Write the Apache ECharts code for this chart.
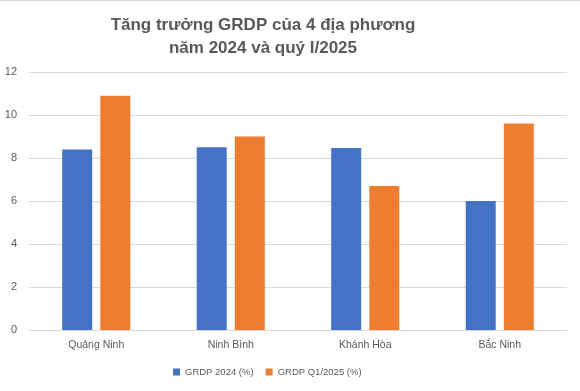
<!DOCTYPE html>
<html>
<head>
<meta charset="utf-8">
<script src="https://cdn.jsdelivr.net/npm/echarts@6/dist/echarts.min.js"></script>
<style>
html,body{margin:0;padding:0;background:#fff;}
#c{width:580px;height:391px;}
</style>
</head>
<body>
<div id="c"></div>
<script>
const categories = ['Quảng Ninh', 'Ninh Bình', 'Khánh Hòa', 'Bắc Ninh'];
const grdp2024 = [8.4, 8.5, 8.47, 6.0];
const grdpQ12025 = [10.9, 9.0, 6.7, 9.6];
const seriesNames = ['GRDP 2024 (%)', 'GRDP Q1/2025 (%)'];
const yTicks = { min: 0, max: 12, interval: 2 };

const chart = echarts.init(document.getElementById('c'), null, { renderer: 'canvas' });
const font = '"Liberation Sans", Arial, sans-serif';
chart.setOption({
  animation: false,
  backgroundColor: '#fff',
  textStyle: { fontFamily: font },
  title: {
    text: 'Tăng trưởng GRDP của 4 địa phương\nnăm 2024 và quý I/2025',
    left: 258,
    textAlign: 'center',
    top: 9,
    textStyle: { fontSize: 17, fontWeight: 'bold', color: '#595959', lineHeight: 23, fontFamily: font }
  },
  graphic: [{
    type: 'line', shape: { x1: 0, y1: 0.5, x2: 580, y2: 0.5 },
    style: { stroke: '#d9d9d9', lineWidth: 1 }
  }],
  legend: {
    bottom: 9,
    left: 168,
    itemWidth: 7,
    itemHeight: 7,
    itemGap: 12,
    icon: 'rect',
    textStyle: { fontSize: 9.5, color: '#595959', fontFamily: font }
  },
  grid: { left: 29, right: 13, top: 72, bottom: 61, containLabel: false },
  xAxis: {
    type: 'category',
    data: categories,
    axisLine: { lineStyle: { color: '#d9d9d9' } },
    axisTick: { show: false },
    axisLabel: { color: '#595959', fontSize: 10.5, margin: 10, fontFamily: font }
  },
  yAxis: {
    type: 'value',
    min: yTicks.min, max: yTicks.max, interval: yTicks.interval,
    axisLine: { show: false },
    axisTick: { show: false },
    splitLine: { lineStyle: { color: '#d9d9d9', width: 1 } },
    axisLabel: { color: '#595959', fontSize: 11, margin: 12, fontFamily: font }
  },
  series: [
    { name: seriesNames[0], type: 'bar', data: grdp2024, itemStyle: { color: '#4472c4' }, barWidth: 30, barGap: '27%' },
    { name: seriesNames[1], type: 'bar', data: grdpQ12025, itemStyle: { color: '#ed7d31' }, barWidth: 30, barGap: '27%' }
  ]
});
</script>
</body>
</html>
